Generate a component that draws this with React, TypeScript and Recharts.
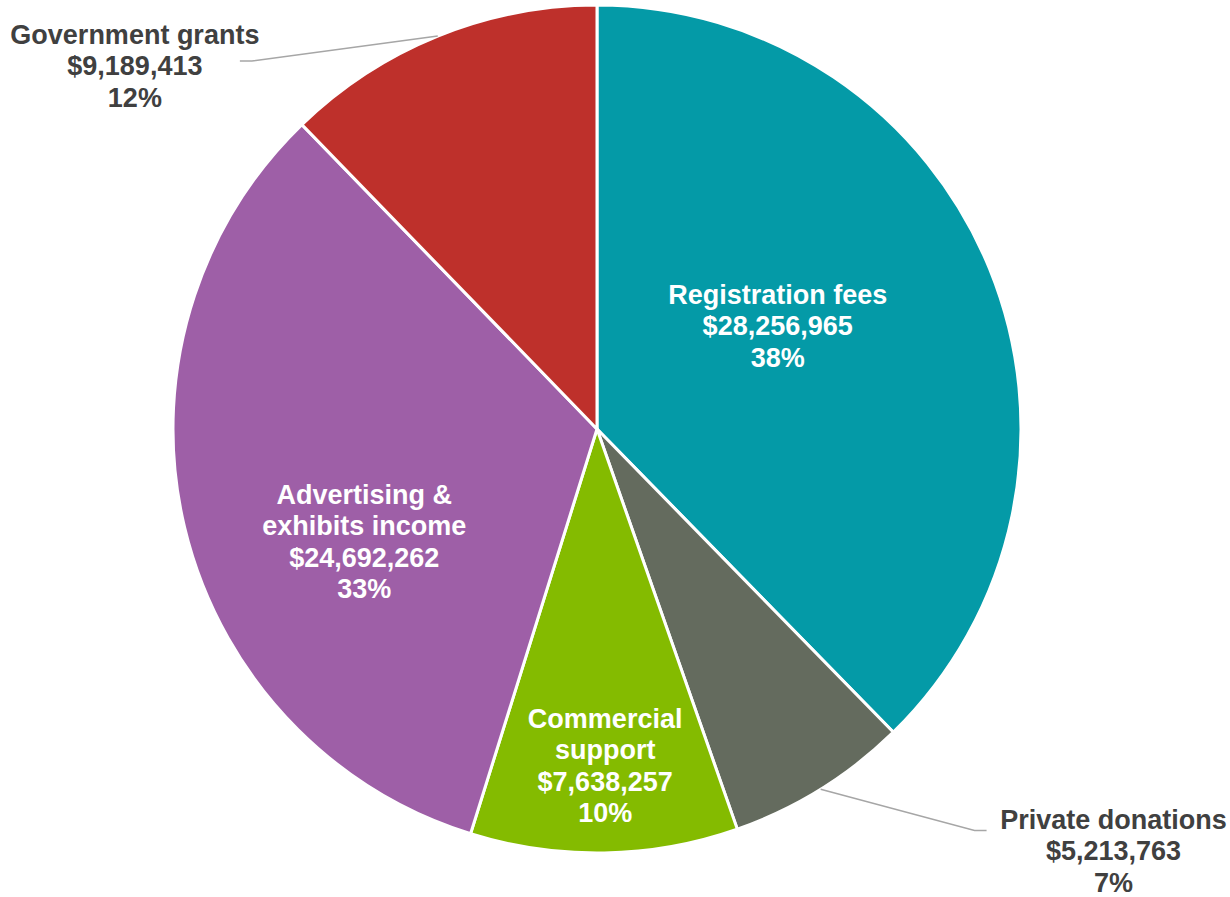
import { PieChart, Pie, Cell } from 'recharts'

// Revenue sources, clockwise from 12 o'clock
const categories = [
  'Registration fees',
  'Private donations',
  'Commercial support',
  'Advertising & exhibits income',
  'Government grants',
]
const amounts = [28256965, 5213763, 7638257, 24692262, 9189413]
const colors = ['#049AA7', '#646B5E', '#84BB00', '#9E5FA7', '#BE302B']

// how each category name is broken over lines in its label
const nameLines = [
  ['Registration fees'],
  ['Private donations'],
  ['Commercial', 'support'],
  ['Advertising &', 'exhibits income'],
  ['Government grants'],
]

// label placement: inside labels sit at r * outerRadius, rotated `shift` degrees (clockwise) from mid angle.
// outside labels use an elbowed leader line.
const labelLayout = [
  { outside: false, r: 0.49, shift: -7.4 },
  { outside: true, r: 1.3, shift: -11.4, side: 1 },
  { outside: false, r: 0.795, shift: -0.4 },
  { outside: false, r: 0.61, shift: -12.5 },
  { outside: true, r: 1.19, shift: -21.1, side: -1 },
]

const data = categories.map((name, i) => ({ name, value: amounts[i] }))

const FONT = '"Liberation Sans", Arial, sans-serif'
const FS = 27
const LH = 31.5

const money = (v: number) => '$' + v.toLocaleString('en-US')

// clockwise-from-top angle -> point
const polar = (cx: number, cy: number, r: number, deg: number) => {
  const a = (deg * Math.PI) / 180
  return { x: cx + r * Math.sin(a), y: cy - r * Math.cos(a) }
}

function renderLabel(props: any) {
  const { cx, cy, midAngle, outerRadius, percent, index, value } = props
  const lay = labelLayout[index]
  const mid = 90 - midAngle // to clockwise-from-top
  const lines = [...nameLines[index], money(value), Math.round(percent * 100) + '%']

  if (!lay.outside) {
    const p = polar(cx, cy, outerRadius * lay.r, mid + lay.shift)
    const top = p.y - ((lines.length - 1) * LH) / 2
    return (
      <text x={p.x} y={top} textAnchor="middle" dominantBaseline="central" fill="#FFFFFF"
            fontFamily={FONT} fontWeight="bold" fontSize={FS}>
        {lines.map((l, k) => (
          <tspan key={k} x={p.x} y={top + k * LH}>{l}</tspan>
        ))}
      </text>
    )
  }

  const start = polar(cx, cy, outerRadius, mid)
  const elbow = polar(cx, cy, outerRadius * lay.r, mid + lay.shift)
  const end = { x: elbow.x + lay.side! * 12, y: elbow.y }
  const tx = lay.side === 1 ? end.x + 127 : end.x - 105
  const top = lay.side === 1 ? end.y - 11 : end.y - 26
  return (
    <g>
      <polyline points={`${start.x},${start.y} ${elbow.x},${elbow.y} ${end.x},${end.y}`}
                fill="none" stroke="#A6A6A6" strokeWidth={1.5} />
      <text x={tx} y={top} textAnchor="middle" dominantBaseline="central" fill="#404040"
            fontFamily={FONT} fontWeight="bold" fontSize={FS}>
        {lines.map((l, k) => (
          <tspan key={k} x={tx} y={top + k * LH}>{l}</tspan>
        ))}
      </text>
    </g>
  )
}

export default function App() {
  return (
    <div style={{ position: 'absolute', left: 0, top: 0, width: 1230, height: 897, background: '#FFFFFF' }}>
      <PieChart width={1230} height={897} margin={{ top: 0, right: 0, bottom: 0, left: 0 }}>
        <Pie data={data} dataKey="value" nameKey="name" cx={597} cy={429} outerRadius={424}
             startAngle={90} endAngle={-270} stroke="#FFFFFF" strokeWidth={3}
             label={renderLabel} labelLine={false} isAnimationActive={false}>
          {data.map((d, i) => <Cell key={d.name} fill={colors[i]} />)}
        </Pie>
      </PieChart>
    </div>
  )
}
